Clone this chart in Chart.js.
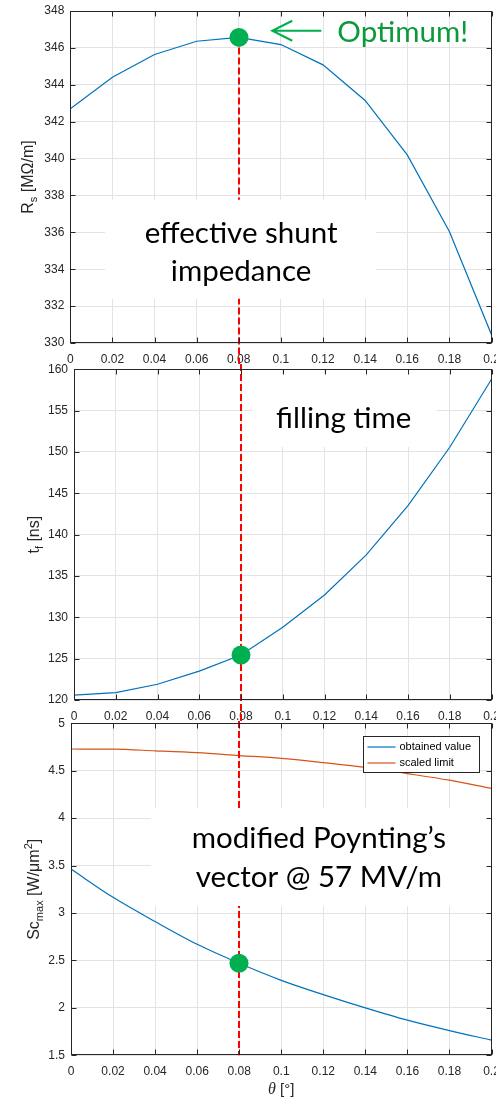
<!DOCTYPE html>
<html>
<head>
<meta charset="utf-8">
<script src="https://cdn.jsdelivr.net/npm/chart.js@4.4.1/dist/chart.umd.min.js"></script>
<style>
  html, body { margin: 0; padding: 0; background: #fff; overflow: hidden; }
  #wrap { position: relative; width: 496px; height: 1097px; }
  canvas { position: absolute; left: 0; }
</style>
</head>
<body>
<div id="wrap">
  <canvas id="g1" width="496" height="364" style="top:0"></canvas>
  <canvas id="g2" width="496" height="357" style="top:364px"></canvas>
  <canvas id="g3" width="496" height="384" style="top:713px"></canvas>
</div>
<script>
// taper angle (deg)
const theta = [0, 0.02, 0.04, 0.06, 0.08, 0.1, 0.12, 0.14, 0.16, 0.18, 0.2];
const xTickLabels = ["0", "0.02", "0.04", "0.06", "0.08", "0.1", "0.12", "0.14", "0.16", "0.18", "0.2"];

// effective shunt impedance [MOhm/m]
const shuntImpedance = [342.70, 344.41, 345.64, 346.36, 346.57, 346.18, 345.08, 343.15, 340.20, 336.05, 330.45];
const rsTicks = ["330", "332", "334", "336", "338", "340", "342", "344", "346", "348"];

// filling time [ns]
const fillingTime = [120.6, 120.9, 121.9, 123.5, 125.45, 128.8, 132.7, 137.55, 143.5, 150.57, 158.8];
const tfTicks = ["120", "125", "130", "135", "140", "145", "150", "155", "160"];

// modified Poynting vector [W/um^2]
const scObtained = [3.463, 3.165, 2.91, 2.67, 2.47, 2.29, 2.14, 2.0, 1.87, 1.76, 1.66];
const scLimit = [4.729, 4.727, 4.71, 4.69, 4.66, 4.63, 4.585, 4.535, 4.47, 4.40, 4.314];
const scTicks = ["1.5", "2", "2.5", "3", "3.5", "4", "4.5", "5"];

const optimumTheta = 0.08;

const AX = "#262626";
const BLUE = "#0072BD";
const ORANGE = "#D95319";
const GREEN = "#00b050";
const TICK_FONT = { family: "'Liberation Sans', Arial, sans-serif", size: 12 };
const BIG_FONT = "29.5px Lato, 'Open Sans', sans-serif";

function pts(ys) {
  return theta.map((t, i) => ({ x: t, y: ys[i] }));
}

// texto rotado con subindices / superindices
function drawYTitle(ctx, cx, cy, parts) {
  ctx.save();
  ctx.translate(cx, cy);
  ctx.rotate(-Math.PI / 2);
  ctx.fillStyle = AX;
  ctx.textBaseline = "alphabetic";
  ctx.textAlign = "left";
  const fontOf = p => (p.sub || p.sup ? "11px" : "16px") + " 'Liberation Sans', Arial, sans-serif";
  let w = 0;
  parts.forEach(p => { ctx.font = fontOf(p); w += ctx.measureText(p.t).width; });
  let xx = -w / 2;
  parts.forEach(p => {
    ctx.font = fontOf(p);
    const dy = p.sub ? 4 : p.sup ? -7 : 0;
    ctx.fillText(p.t, xx, dy);
    xx += ctx.measureText(p.t).width;
  });
  ctx.restore();
}

const overlay = {
  id: "overlay",
  afterDatasetsDraw(chart, args, o) {
    const { ctx, chartArea: a } = chart;
    const x = chart.scales.x, y = chart.scales.y;
    const xo = Math.round(x.getPixelForValue(optimumTheta));
    const idx = theta.indexOf(optimumTheta);
    ctx.save();

    // linea roja discontinua en el optimo
    ctx.strokeStyle = "#ff0000";
    ctx.lineWidth = 2;
    ctx.setLineDash([7, 3]);
    const y0 = o.lineFromMarker ? y.getPixelForValue(o.marker[idx]) : (o.lineTop || 0);
    const y1 = o.lineToAxis ? a.bottom : chart.height;
    ctx.beginPath();
    ctx.moveTo(xo, y0);
    ctx.lineTo(xo, y1);
    ctx.stroke();
    ctx.setLineDash([]);

    // caja blanca con el texto
    const b = o.box;
    const bl = x.getPixelForValue(b.x0), br = Math.min(x.getPixelForValue(b.x1), a.right);
    const bt = y.getPixelForValue(b.y1), bb = y.getPixelForValue(b.y0);
    ctx.fillStyle = "#fff";
    ctx.fillRect(bl, bt, br - bl, bb - bt);
    ctx.fillStyle = "#000";
    ctx.font = BIG_FONT;
    ctx.textAlign = "center";
    ctx.textBaseline = "alphabetic";
    o.lines.forEach(l => ctx.fillText(l.text, x.getPixelForValue(o.textX), y.getPixelForValue(l.y)));

    // "Optimum!"
    if (o.optimum) {
      const ay = y.getPixelForValue(o.optimum.arrowY);
      const ax0 = x.getPixelForValue(o.optimum.arrowFrom);
      const ax1 = x.getPixelForValue(o.optimum.arrowTo);
      ctx.strokeStyle = GREEN;
      ctx.lineWidth = 2;
      ctx.beginPath();
      ctx.moveTo(ax0, ay);
      ctx.lineTo(ax1, ay);
      ctx.moveTo(ax1 + 20, ay - 10);
      ctx.lineTo(ax1, ay);
      ctx.lineTo(ax1 + 20, ay + 10);
      ctx.stroke();
      ctx.fillStyle = "#0a9a3a";
      ctx.textAlign = "left";
      ctx.font = "29.5px Lato, 'Open Sans', sans-serif";
      ctx.fillText("Optimum!", x.getPixelForValue(o.optimum.textX), y.getPixelForValue(o.optimum.textY));
    }

    // marcador verde
    ctx.fillStyle = GREEN;
    ctx.beginPath();
    ctx.arc(xo, y.getPixelForValue(o.marker[idx]), 9.5, 0, Math.PI * 2);
    ctx.fill();

    // leyenda
    if (o.legend) {
      const lw = 116, lh = 36;
      const lx = Math.round(a.right - 13 - lw) + 0.5, ly = Math.round(a.top + 13) + 0.5;
      ctx.fillStyle = "#fff";
      ctx.fillRect(lx, ly, lw, lh);
      ctx.strokeStyle = AX;
      ctx.lineWidth = 1;
      ctx.strokeRect(lx, ly, lw, lh);
      ctx.font = "11px 'Liberation Sans', Arial, sans-serif";
      ctx.textAlign = "left";
      ctx.textBaseline = "middle";
      chart.data.datasets.forEach((ds, i) => {
        const ry = ly + 10.5 + i * 16;
        ctx.strokeStyle = ds.borderColor;
        ctx.lineWidth = 1.2;
        ctx.beginPath();
        ctx.moveTo(lx + 4, ry);
        ctx.lineTo(lx + 32, ry);
        ctx.stroke();
        ctx.fillStyle = "#000";
        ctx.fillText(ds.label, lx + 36, ry);
      });
    }

    // marco y marcas hacia dentro
    ctx.strokeStyle = AX;
    ctx.lineWidth = 1;
    const L = Math.round(a.left) + 0.5, R = Math.round(a.right) - 0.5;
    const T = Math.round(a.top) + 0.5, B = Math.round(a.bottom) - 0.5;
    ctx.strokeRect(L, T, R - L, B - T);
    ctx.beginPath();
    x.ticks.forEach(t => {
      const px = Math.round(x.getPixelForValue(t.value)) + 0.5;
      ctx.moveTo(px, B); ctx.lineTo(px, B - 5);
      ctx.moveTo(px, T); ctx.lineTo(px, T + 5);
    });
    y.ticks.forEach(t => {
      const py = Math.round(y.getPixelForValue(t.value)) + 0.5;
      ctx.moveTo(L, py); ctx.lineTo(L + 5, py);
      ctx.moveTo(R, py); ctx.lineTo(R - 5, py);
    });
    ctx.stroke();

    drawYTitle(ctx, o.titleX, (a.top + a.bottom) / 2, o.title);
    if (o.xTitle) {
      ctx.fillStyle = AX;
      ctx.textBaseline = "alphabetic";
      ctx.textAlign = "left";
      ctx.font = "italic 16px 'Liberation Serif', serif";
      const w1 = ctx.measureText("\u03b8").width;
      ctx.font = "15px 'Liberation Sans', Arial, sans-serif";
      const w2 = ctx.measureText(" [\u00b0]").width;
      const sx = (a.left + a.right) / 2 - (w1 + w2) / 2;
      ctx.font = "italic 16px 'Liberation Serif', serif";
      ctx.fillText("\u03b8", sx, chart.height - 3);
      ctx.font = "15px 'Liberation Sans', Arial, sans-serif";
      ctx.fillText(" [\u00b0]", sx + w1, chart.height - 3);
    }
    ctx.restore();
  }
};

function makeChart(id, cfg) {
  const ctx = document.getElementById(id).getContext("2d");
  return new Chart(ctx, {
    type: "line",
    data: { datasets: cfg.datasets },
    options: {
      responsive: false,
      animation: false,
      layout: { padding: { top: cfg.top, right: 4.5, left: 0, bottom: 0 } },
      plugins: { legend: { display: false }, tooltip: { enabled: false }, overlay: cfg.overlay },
      scales: {
        x: {
          type: "linear",
          min: 0,
          max: 0.2,
          grid: { color: "#e3e3e3", drawTicks: false },
          border: { display: false },
          ticks: {
            stepSize: 0.02,
            autoSkip: false,
            maxRotation: 0,
            padding: 9,
            color: AX,
            font: TICK_FONT,
            callback: (v, i) => xTickLabels[i]
          },
          afterFit: s => { s.height = cfg.xHeight; s.paddingLeft = 0; s.paddingRight = 0; }
        },
        y: {
          min: cfg.yMin,
          max: cfg.yMax,
          grid: { color: "#e3e3e3", drawTicks: false },
          border: { display: false },
          ticks: {
            stepSize: cfg.yStep,
            padding: 6,
            color: AX,
            font: TICK_FONT,
            callback: (v, i) => cfg.yLabels[i]
          },
          afterFit: s => { s.width = cfg.yWidth; s.paddingTop = 0; s.paddingBottom = 0; }
        }
      }
    },
    plugins: [overlay]
  });
}

makeChart("g1", {
  top: 11, xHeight: 21, yWidth: 70.3,
  yMin: 330, yMax: 348, yStep: 2, yLabels: rsTicks,
  datasets: [{ label: "Rs", data: pts(shuntImpedance), borderColor: BLUE, borderWidth: 1.2, pointRadius: 0, tension: 0 }],
  overlay: {
    lineFromMarker: true,
    marker: shuntImpedance,
    box: { x0: 0.0165, x1: 0.145, y0: 332.4, y1: 337.77 },
    textX: 0.0811,
    lines: [{ text: "effective shunt", y: 335.42 }, { text: "impedance", y: 333.36 }],
    optimum: { arrowY: 346.93, arrowFrom: 0.1192, arrowTo: 0.0959, textX: 0.1268, textY: 346.34 },
    titleX: 33,
    title: [{ t: "R" }, { t: "s", sub: true }, { t: " [M\u03a9/m]" }]
  }
});

makeChart("g2", {
  top: 5.3, xHeight: 21, yWidth: 74,
  yMin: 120, yMax: 160, yStep: 5, yLabels: tfTicks,
  datasets: [{ label: "tf", data: pts(fillingTime), borderColor: BLUE, borderWidth: 1.2, pointRadius: 0, tension: 0 }],
  overlay: {
    marker: fillingTime,
    box: { x0: 0.0856, x1: 0.1737, y0: 150.6, y1: 159.43 },
    textX: 0.1292,
    lines: [{ text: "filling time", y: 152.9 }],
    titleX: 39,
    title: [{ t: "t" }, { t: "f", sub: true }, { t: " [ns]" }]
  }
});

makeChart("g3", {
  top: 10.3, xHeight: 41.7, yWidth: 71,
  yMin: 1.5, yMax: 5, yStep: 0.5, yLabels: scTicks,
  datasets: [
    { label: "obtained value", data: pts(scObtained), borderColor: BLUE, borderWidth: 1.2, pointRadius: 0, cubicInterpolationMode: "monotone" },
    { label: "scaled limit", data: pts(scLimit), borderColor: ORANGE, borderWidth: 1.2, pointRadius: 0, cubicInterpolationMode: "monotone" }
  ],
  overlay: {
    lineToAxis: true,
    lineTop: 8,
    marker: scObtained,
    box: { x0: 0.038, x1: 0.2, y0: 3.074, y1: 4.106 },
    textX: 0.1179,
    lines: [{ text: "modified Poynting\u2019s", y: 3.684 }, { text: "vector @ 57 MV/m", y: 3.273 }],
    legend: true,
    xTitle: true,
    titleX: 39,
    title: [{ t: "Sc" }, { t: "max", sub: true }, { t: " [W/\u03bcm" }, { t: "2", sup: true }, { t: "]" }]
  }
});
</script>
</body>
</html>
